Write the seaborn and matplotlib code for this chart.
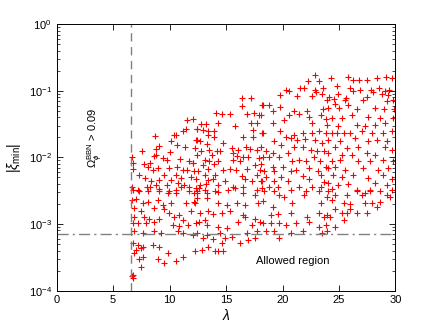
import numpy as np
import matplotlib
matplotlib.use("Agg")
import matplotlib.pyplot as plt
import matplotlib.ticker as mticker
import seaborn as sns

# ---- data: (lambda, log10 |xi_min|), by region ----
region_top = [(22.9,-0.76),(24.27,-0.80),(25.8,-0.79),(26.24,-0.84),(26.8,-0.83),(27.5,-0.84),
              (28.4,-0.80),(29.2,-0.79),(29.7,-0.81),(22.27,-0.85),(23.2,-0.85),(20.35,-0.98),
              (21.56,-0.95),(21.9,-0.96),(22.9,-0.99),(23.6,-0.96),(24.8,-0.93),(26.0,-0.96),
              (26.9,-0.98),(27.8,-0.99),(28.5,-0.95),(29.1,-1.0),(29.4,-0.98),(21.3,-1.08),
              (22.6,-1.07),(24.1,-1.09),(24.6,-1.12),(25.6,-1.11),(27.5,-1.09),(29.9,-1.27)]

region_a = [(11.53,-1.44),(12.03,-1.43),(12.4,-1.58),(11.15,-1.60),(11.47,-1.58),(10.35,-1.66),
            (10.59,-1.66),(8.74,-1.68),(10.12,-1.75),(12.32,-1.74),(10.64,-1.81),(9.09,-1.83),
            (8.79,-1.88),(7.56,-1.90),(10.03,-1.92),(11.38,-1.85),(8.59,-1.98),(8.79,-1.97),
            (9.38,-2.01),(9.76,-2.04),(6.65,-2.00),(10.94,-2.03),(11.74,-2.05),(7.77,-2.10),
            (6.73,-2.08),(8.3,-2.08),(12.03,-2.08),(8.06,-2.14),(8.94,-2.16),(8.5,-2.19),
            (9.97,-2.16),(10.64,-2.14),(11.15,-2.19),(11.53,-2.19),(12.18,-2.20),(6.8,-2.18),
            (7.33,-2.26),(7.82,-2.31),(8.35,-2.36),(9.09,-2.34),(9.53,-2.26),(10.56,-2.26),
            (10.12,-2.34),(11.0,-2.31),(11.88,-2.29),(12.32,-2.33),(10.7,-2.38),(11.3,-2.41),
            (9.76,-2.41),(8.79,-2.41),(8.0,-2.45),(8.3,-2.45),(6.7,-2.45),(6.73,-2.49),
            (7.18,-2.49),(9.09,-2.48),(11.0,-2.44),(11.74,-2.45),(12.32,-2.46),(9.97,-2.51),
            (10.56,-2.49),(12.18,-2.53),(8.06,-2.51)]

region_b = [(16.44,-1.11),(17.17,-1.11),(16.44,-1.23),(18.2,-1.21),(14.09,-1.34),(14.62,-1.35),
            (15.36,-1.35),(16.82,-1.35),(17.5,-1.34),(17.92,-1.36),(14.32,-1.49),(15.8,-1.53),
            (12.8,-1.50),(13.24,-1.50),(17.17,-1.49),(17.7,-1.48),(12.41,-1.58),(12.94,-1.59),
            (13.44,-1.60),(13.94,-1.60),(17.41,-1.59),(18.14,-1.64),(13.44,-1.66),(13.94,-1.69),
            (16.53,-1.70),(17.41,-1.69),(12.41,-1.74),(12.71,-1.76),(13.35,-1.80),(14.7,-1.78),
            (16.77,-1.85),(15.5,-1.86),(12.27,-1.86),(12.8,-1.91),(13.53,-1.89),(14.24,-1.90),
            (14.45,-1.91),(16.09,-1.89),(17.12,-1.88),(17.76,-1.89),(12.41,-1.96),(13.73,-1.96),
            (15.65,-1.94),(15.94,-1.98),(16.53,-1.99),(16.97,-2.0),(17.88,-2.01),(13.15,-2.04),
            (13.53,-2.05),(14.32,-2.06),(15.65,-2.04),(16.2,-2.06),(13.0,-2.11),(13.97,-2.10),
            (17.56,-2.11),(12.1,-2.09),(13.44,-2.17),(14.77,-2.19),(15.36,-2.17),(15.88,-2.19),
            (16.82,-2.18),(18.02,-2.19),(12.5,-2.20),(13.15,-2.26),(14.05,-2.27),(16.38,-2.28),
            (17.7,-2.26),(13.44,-2.34),(13.88,-2.33),(14.92,-2.35),(16.68,-2.33),(17.27,-2.36),
            (18.2,-2.35),(12.71,-2.41),(13.26,-2.40),(14.32,-2.41),(15.65,-2.44),(12.56,-2.46),
            (13.15,-2.49),(15.21,-2.49),(15.8,-2.46),(16.53,-2.45),(17.73,-2.49),(18.2,-2.46),
            (12.41,-2.53),(14.32,-2.52)]

region_c = [(19.77,-1.06),(20.59,-1.0),(23.0,-1.01),(23.48,-1.04),(18.24,-1.21),(18.83,-1.21),
            (19.77,-1.24),(19.18,-1.30),(21.03,-1.30),(22.21,-1.30),(23.59,-1.28),(18.1,-1.36),
            (20.59,-1.36),(21.47,-1.35),(22.35,-1.39),(23.39,-1.36),(19.12,-1.49),(20.15,-1.44),
            (22.65,-1.49),(23.83,-1.43),(18.24,-1.64),(19.77,-1.61),(20.3,-1.69),(20.74,-1.71),
            (21.03,-1.66),(21.77,-1.64),(22.59,-1.64),(23.24,-1.61),(23.83,-1.64),(19.27,-1.76),
            (21.32,-1.74),(22.0,-1.73),(22.9,-1.74),(23.53,-1.79),(19.86,-1.81),(18.1,-1.85),
            (21.77,-1.85),(21.03,-1.84),(22.5,-1.89),(23.09,-1.90),(18.53,-1.91),(19.12,-1.94),
            (20.45,-1.93),(23.68,-1.91),(18.24,-1.99),(18.83,-2.0),(19.65,-2.0),(20.88,-2.06),
            (21.47,-2.04),(22.06,-2.06),(22.8,-2.0),(23.33,-2.05),(18.1,-2.10),(19.12,-2.14),
            (20.0,-2.15),(22.35,-2.16),(23.83,-2.14),(18.4,-2.21),(19.27,-2.21),(20.74,-2.21),
            (21.18,-2.19),(23.1,-2.20),(23.39,-2.26),(18.53,-2.29),(19.86,-2.29),(21.77,-2.28),
            (22.35,-2.33),(18.1,-2.36),(19.27,-2.36),(20.45,-2.36),(23.68,-2.37),(18.83,-2.44),
            (19.56,-2.45),(21.47,-2.44),(22.65,-2.44),(23.39,-2.44),(18.4,-2.51),(20.74,-2.49),
            (22.06,-2.51),(24.0,-2.51)]

region_d = [(24.94,-1.04),(26.27,-1.0),(28.03,-1.01),(28.77,-1.04),(29.36,-1.06),(23.92,-1.14),
            (25.53,-1.14),(25.83,-1.21),(24.65,-1.19),(27.15,-1.14),(29.21,-1.15),(29.8,-1.14),
            (24.06,-1.26),(25.0,-1.26),(26.57,-1.28),(28.18,-1.26),(29.0,-1.28),(24.36,-1.41),
            (25.24,-1.41),(26.12,-1.36),(27.59,-1.40),(29.8,-1.41),(28.62,-1.41),(23.92,-1.51),
            (24.94,-1.53),(26.57,-1.51),(27.3,-1.53),(28.18,-1.51),(29.07,-1.49),(24.36,-1.64),
            (24.8,-1.64),(25.4,-1.64),(25.97,-1.63),(27.0,-1.61),(27.9,-1.63),(28.92,-1.64),
            (29.66,-1.61),(24.06,-1.74),(25.09,-1.76),(26.42,-1.71),(27.59,-1.76),(28.33,-1.74),
            (29.21,-1.76),(24.65,-1.84),(25.68,-1.86),(26.71,-1.84),(29.07,-1.84),(29.66,-1.89),
            (24.06,-1.93),(25.24,-1.96),(26.12,-1.96),(27.44,-1.93),(28.18,-1.96),(24.36,-2.06),
            (25.09,-2.04),(26.71,-2.06),(27.74,-2.05),(28.92,-2.04),(29.8,-2.06),(24.06,-2.16),
            (24.65,-2.14),(25.53,-2.19),(27.15,-2.16),(28.48,-2.19),(29.36,-2.16),(24.5,-2.26),
            (25.24,-2.29),(26.27,-2.27),(27.59,-2.31),(28.92,-2.27),(29.66,-2.33),(24.06,-2.39),
            (24.94,-2.41),(25.83,-2.40),(28.18,-2.39),(29.21,-2.41),(24.36,-2.48),(26.57,-2.49),
            (27.74,-2.49),(28.62,-2.51),(29.66,-2.49)]

region_e = [(7.33,-2.51),(9.09,-2.50),(9.82,-2.53),(10.56,-2.54),(11.74,-2.50),(6.7,-2.64),
            (7.0,-2.62),(7.62,-2.69),(8.06,-2.67),(8.94,-2.64),(9.38,-2.71),(10.12,-2.69),
            (11.44,-2.69),(12.18,-2.67),(6.82,-2.76),(7.47,-2.81),(8.65,-2.76),(9.53,-2.78),
            (9.97,-2.84),(10.85,-2.86),(11.88,-2.81),(6.88,-2.89),(7.77,-2.89),(8.2,-2.93),
            (9.09,-2.92),(10.41,-2.89),(11.15,-2.94),(6.75,-2.99),(7.18,-2.99),(7.9,-2.99),
            (8.65,-2.97),(10.26,-3.01),(10.85,-3.03),(11.59,-3.01),(12.32,-2.99),(6.88,-3.11),
            (7.62,-3.14),(8.65,-3.11),(9.24,-3.14),(10.71,-3.11),(11.15,-3.14),(12.03,-3.16),
            (6.73,-3.29),(7.18,-3.31),(7.62,-3.34),(7.03,-3.39),(7.47,-3.36),(6.88,-3.44),
            (8.5,-3.31),(9.09,-3.34),(7.62,-3.49),(7.33,-3.52),(9.82,-3.44),(11.15,-3.49),
            (10.56,-3.56),(8.94,-3.52),(9.53,-3.59),(7.47,-3.64),(6.75,-3.76),(6.8,-3.81),
            (6.7,-3.78)]

region_f = [(12.41,-2.50),(13.29,-2.54),(14.0,-2.50),(16.53,-2.53),(17.56,-2.56),(12.41,-2.61),
            (13.29,-2.61),(12.27,-2.69),(14.32,-2.69),(15.06,-2.71),(15.94,-2.69),(16.68,-2.71),
            (17.85,-2.69),(12.71,-2.84),(13.44,-2.81),(13.88,-2.85),(14.62,-2.84),(15.36,-2.81),
            (16.53,-2.86),(16.68,-2.89),(17.56,-2.92),(13.15,-2.94),(12.56,-2.97),(16.09,-2.97),
            (18.02,-2.97),(13.29,-3.01),(14.32,-3.04),(15.06,-3.06),(17.27,-3.01),(12.41,-3.14),
            (13.29,-3.16),(14.47,-3.14),(16.82,-3.14),(17.7,-3.11),(13.0,-3.21),(13.88,-3.23),
            (14.92,-3.21),(15.5,-3.19),(16.24,-3.29),(16.97,-3.24),(17.56,-3.21),(14.62,-3.29),
            (12.85,-3.39),(13.44,-3.34),(14.03,-3.41),(14.32,-3.41),(14.77,-3.41),(12.27,-3.41)]

region_g = [(19.27,-2.50),(19.71,-2.56),(20.15,-2.59),(21.91,-2.56),(23.24,-2.50),(18.24,-2.66),
            (19.12,-2.74),(20.88,-2.69),(23.39,-2.69),(18.97,-2.86),(19.56,-2.85),(20.74,-2.84),
            (22.21,-2.89),(23.24,-2.84),(23.68,-2.89),(18.24,-2.99),(18.97,-2.99),(19.71,-2.99),
            (20.3,-3.01),(21.18,-2.99),(21.77,-3.11),(22.35,-2.97),(23.24,-3.04),(23.83,-3.01),
            (18.53,-3.11),(19.27,-3.11),(20.74,-3.14),(19.71,-3.21),(23.53,-3.14)]

region_h = [(23.92,-2.59),(24.65,-2.56),(25.68,-2.56),(26.57,-2.50),(27.0,-2.56),(27.3,-2.53),
            (27.74,-2.50),(29.21,-2.56),(29.51,-2.59),(24.36,-2.64),(25.4,-2.69),(25.97,-2.70),
            (27.3,-2.69),(27.9,-2.69),(28.62,-2.67),(24.65,-2.77),(25.97,-2.78),(28.33,-2.75),
            (23.92,-2.86),(25.24,-2.84),(25.68,-2.84),(26.57,-2.83),(27.44,-2.84),(24.2,-2.89),
            (25.4,-2.94),(24.65,-3.04),(23.92,-3.11)]

lambda_cut = 6.6        # vertical dashed line (BBN bound)
xi_cut = 7e-4           # horizontal dash-dot line
x_ticks = [0, 5, 10, 15, 20, 25, 30]

regions = [region_top, region_a, region_b, region_c, region_d,
           region_e, region_f, region_g, region_h]
pts = np.array([p for r in regions for p in r])
lam = pts[:, 0]
xi = 10.0 ** pts[:, 1]

plt.rcParams['font.family'] = ['Liberation Sans', 'DejaVu Sans']
plt.rcParams['mathtext.fontset'] = 'custom'
plt.rcParams['mathtext.rm'] = 'Liberation Sans'
plt.rcParams['mathtext.it'] = 'Liberation Sans:italic'

fig = plt.figure(figsize=(4.36, 3.28), dpi=100)
ax = fig.add_axes([0.13, 0.114, 0.777, 0.812])

sns.scatterplot(x=lam, y=xi, marker='+', color='#ff0000', edgecolor='#ff0000',
                s=20, linewidth=0.8, ax=ax, legend=False)

ax.set_yscale('log')
ax.set_xlim(0, 30)
ax.set_ylim(1e-4, 1)
ax.set_xticks(x_ticks)
ax.yaxis.set_major_locator(mticker.LogLocator(base=10, numticks=10))
ax.yaxis.set_minor_locator(mticker.LogLocator(base=10, subs=np.arange(2, 10), numticks=20))
ax.yaxis.set_minor_formatter(mticker.NullFormatter())

ax.axvline(lambda_cut, color='#808080', lw=1.0, ls=(0, (6, 4)))
ax.axhline(xi_cut, color='#808080', lw=1.0, ls=(0, (8, 3, 1.5, 3)))

ax.tick_params(which='both', direction='in', top=True, right=True, labelsize=8, color='black')
ax.tick_params(which='major', length=4, width=0.6)
ax.tick_params(which='minor', length=2.2, width=0.5)
for s in ax.spines.values():
    s.set_linewidth(0.7)
    s.set_color('black')

ax.set_xlabel(r'$\lambda$', fontsize=10, labelpad=2)
ax.set_ylabel(r'$|\xi_{\rm min}|$', fontsize=10, labelpad=4)

ax.text(3.4, 0.02, r'$\Omega_\phi^{\rm BBN}$ > 0.09', rotation=90, fontsize=8,
        ha='center', va='center')
ax.text(20.9, 2.8e-4, 'Allowed region', fontsize=8, ha='center', va='center')

fig.savefig('out.png', dpi=100)
